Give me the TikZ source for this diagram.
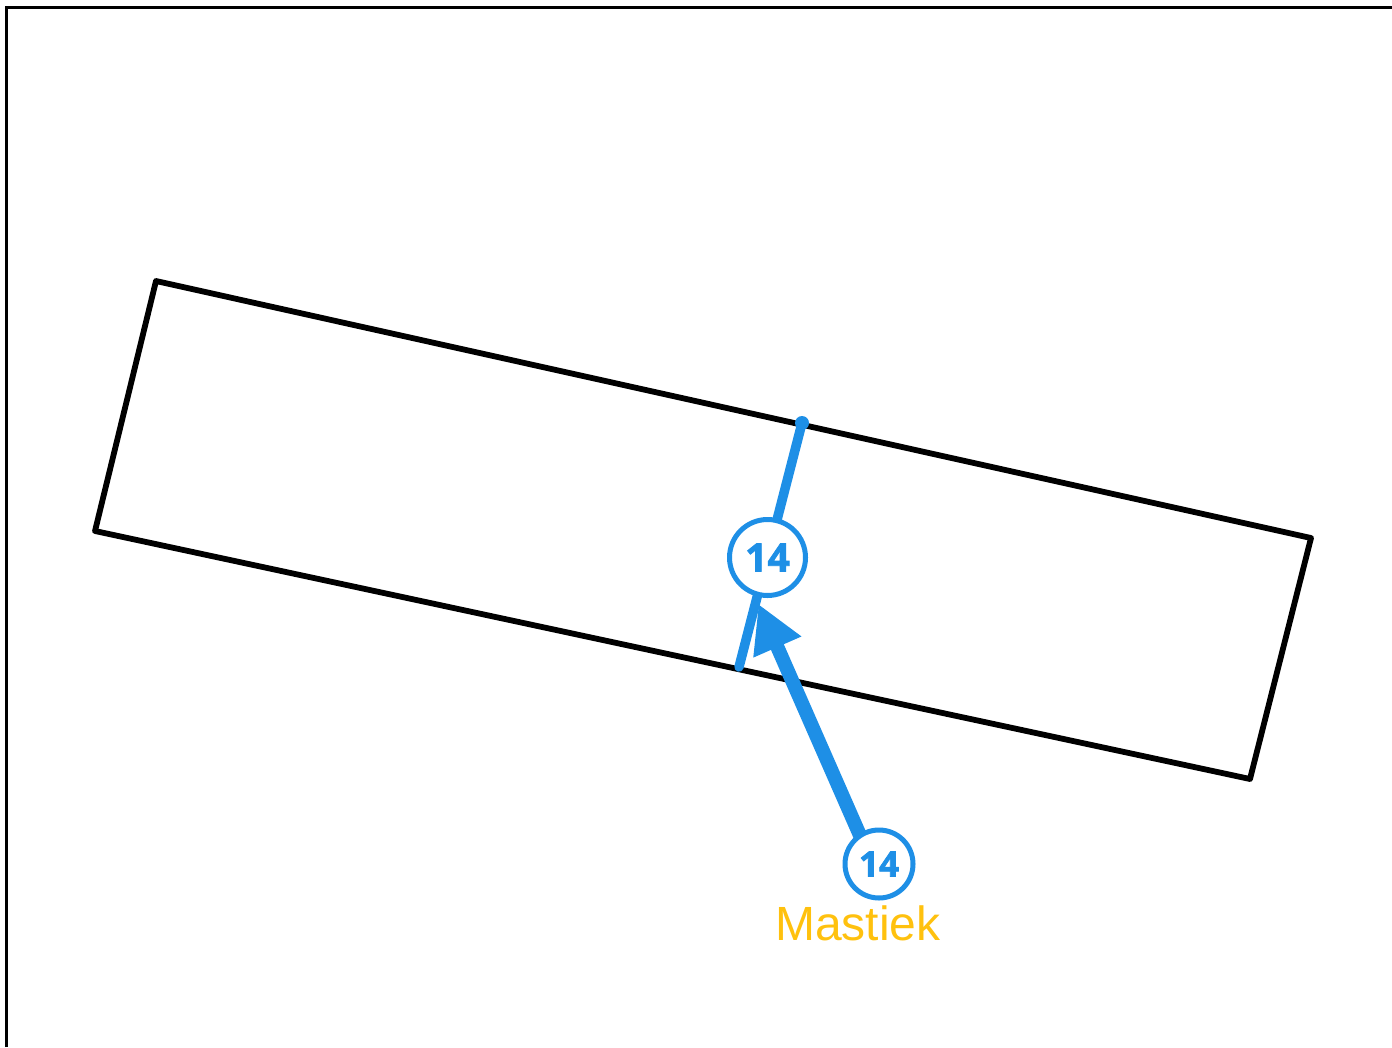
\documentclass[tikz,border=0pt]{standalone}
\usepackage{fontspec}
\setmainfont{Liberation Sans}
\newfontfamily\numfont[BoldFeatures={FakeBold=2}]{Open Sans}
\usetikzlibrary{arrows.meta}
\definecolor{mblue}{HTML}{1E8FE6}
\definecolor{myellow}{HTML}{FFC10E}
\tikzset{
  frameline/.style={draw=black,line width=3pt},
  panel/.style={draw=black,line width=5.8pt,line join=round},
  seam/.style={draw=mblue,line width=9.5pt,line cap=round},
  seamdot/.style={circle,fill=mblue,inner sep=0pt,minimum size=14pt},
  badge/.style={circle,draw=mblue,fill=white,text=mblue,inner sep=0pt,font=\numfont\bfseries},
  pointer/.style={draw=mblue,line width=14pt,shorten <=-2.5pt,-{Triangle[length=47pt,width=49pt,fill=mblue]}},
  caption/.style={text=myellow,inner sep=0pt,anchor=base}
}
\begin{document}
\begin{tikzpicture}[x=1pt,y=-1pt]
\useasboundingbox (0,0) rectangle (1392,1047);
\coordinate (fbl) at (6,1047);
\coordinate (ftl) at (6,7);
\coordinate (ftr) at (1392,7);
\draw[frameline] (fbl) -- (ftl) -- (ftr);
\coordinate (r1) at (156,281);
\coordinate (r2) at (1311,538);
\coordinate (r3) at (1250,779);
\coordinate (r4) at (95,531);
\draw[panel] (r1) -- (r2) -- (r3) -- (r4) -- cycle;
\node[seamdot] (s1) at (802,423) {};
\coordinate (s2) at (739,667);
\draw[seam] (s1.center) -- (s2);
\node[badge,line width=5pt,minimum size=76pt] (b1) at (767.5,557.5) {\fontsize{39}{39}\selectfont 14};
\node[badge,line width=5pt,minimum size=68pt] (b2) at (879,864) {\fontsize{35}{35}\selectfont 14};
\coordinate (tip) at (758.5,604);
\draw[pointer] (b2.123) -- (tip);
\node[caption] (cap) at (858,940) {\fontsize{48}{48}\selectfont Mastiek};
\end{tikzpicture}
\end{document}
